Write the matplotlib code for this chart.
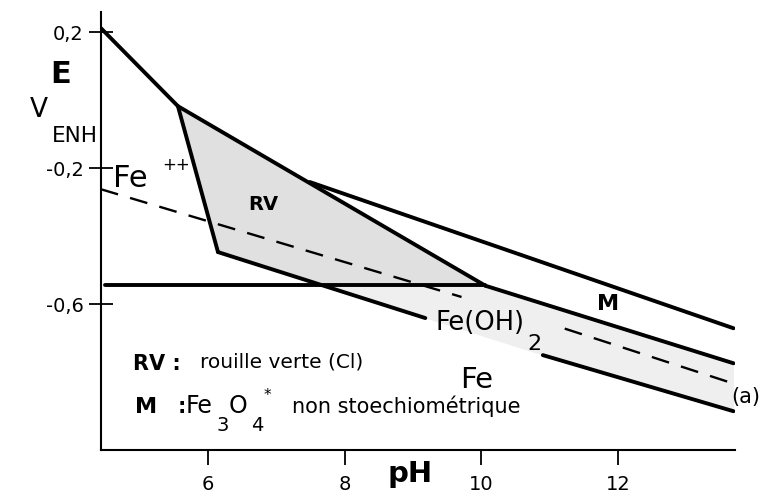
import matplotlib
matplotlib.use("Agg")
import matplotlib.pyplot as plt
import numpy as np

plt.rcParams['font.family'] = ['DejaVu Sans']
plt.rcParams['lines.scale_dashes'] = False

# ---- data (pH, E in V/ENH) ----
top_ph = [4.43, 5.56, 10.06]
top_E = [0.212, -0.018, -0.546]
rv_left_ph = [5.56, 6.146]
rv_left_E = [-0.018, -0.447]
m_upper_ph = [7.49, 13.69]
m_upper_E = [-0.241, -0.671]
m_lower_ph = [10.06, 13.69]
m_lower_E = [-0.546, -0.774]
fe_low1_ph = [6.146, 9.18]
fe_low1_E = [-0.447, -0.641]
fe_low2_ph = [10.90, 13.69]
fe_low2_E = [-0.750, -0.915]
horiz_ph = [4.49, 10.06]
horiz_E = [-0.545, -0.545]
# dashed line (a), interrupted by the Fe(OH)2 label
dash_a1_ph = [4.43, 9.71]
dash_a1_E = [-0.262, -0.579]
dash_a2_ph = [11.22, 13.71]
dash_a2_E = [-0.672, -0.835]
rv_poly_ph = [5.56, 10.06, 7.68, 6.146]
rv_poly_E = [-0.018, -0.546, -0.545, -0.447]

xticks = [6, 8, 10, 12]
xticklabels = ['6', '8', '10', '12']
yticks = [0.2, -0.2, -0.6]
yticklabels = ['0,2', '-0,2', '-0,6']

W, H = 778, 493
fig = plt.figure(figsize=(W / 100, H / 100), dpi=100)
ax = fig.add_axes([101 / W, 43 / H, 634 / W, 438 / H])
ax.set_xlim(4.434, 13.712)
ax.set_ylim(-1.029, 0.259)

# shading
ax.fill(rv_poly_ph, rv_poly_E, color='#e0e0e0', lw=0, zorder=1)
low_ph = fe_low1_ph + fe_low2_ph
low_E = fe_low1_E + fe_low2_E
xs = np.linspace(7.68, 13.69, 200)
up = np.where(xs <= m_lower_ph[0], horiz_E[0], np.interp(xs, m_lower_ph, m_lower_E))
lo = np.interp(xs, low_ph, low_E)
ax.fill_between(xs, lo, up, color='#efefef', lw=0, zorder=1)

lw = 2.8
kw = dict(color='black', lw=lw, solid_capstyle='round', zorder=3)
ax.plot(top_ph, top_E, **kw)
ax.plot(rv_left_ph, rv_left_E, **kw)
ax.plot(m_upper_ph, m_upper_E, **kw)
ax.plot(m_lower_ph, m_lower_E, **kw)
ax.plot(fe_low1_ph, fe_low1_E, **kw)
ax.plot(fe_low2_ph, fe_low2_E, **kw)
ax.plot(horiz_ph, horiz_E, **kw)
for dph, dE in [(dash_a1_ph, dash_a1_E), (dash_a2_ph, dash_a2_E)]:
    ax.plot(dph, dE, color='black', lw=1.7, dashes=(13, 9), zorder=2)

for s in ['top', 'right']:
    ax.spines[s].set_visible(False)
for s in ['left', 'bottom']:
    ax.spines[s].set_linewidth(1.5)
ax.set_xticks(xticks)
ax.set_xticklabels(xticklabels)
ax.set_yticks(yticks)
ax.set_yticklabels(yticklabels)
ax.tick_params(axis='x', direction='out', length=11, width=1.3, pad=7, labelsize=14)
ax.tick_params(axis='y', direction='inout', length=17, width=1.3, pad=4, labelsize=14)

def px(x, y):
    return x / W, 1 - y / H

def t(x, y, s, size, weight='normal', ha='left'):
    fig.text(*px(x, y), s, fontsize=size, fontweight=weight, ha=ha, va='baseline')

t(50, 83, 'E', 22, 'bold')
t(30, 117, 'V', 19)
t(52, 142, 'ENH', 15.5)
t(113, 187, 'Fe', 22)
t(162, 170, '++', 12)
t(248, 210, 'RV', 14, 'bold')
t(597, 310, 'M', 16, 'bold')
t(435, 330, 'Fe(OH)', 18.5)
t(527, 350, '2', 16)
t(460, 388, 'Fe', 21)
t(731, 403, '(a)', 15)
t(133, 370, 'RV :', 15, 'bold')
t(200, 368, 'rouille verte (Cl)', 14.5)
t(135, 413, 'M', 16, 'bold')
t(178, 413, ':', 15, 'bold')
t(186, 413, 'Fe', 17)
t(217, 431, '3', 14)
t(229, 413, 'O', 17)
t(251, 431, '4', 14)
t(264, 400, '*', 11)
t(292, 413, 'non stoechiométrique', 15)
t(388, 482, 'pH', 21, 'bold')

fig.savefig('out.png', dpi=100)
